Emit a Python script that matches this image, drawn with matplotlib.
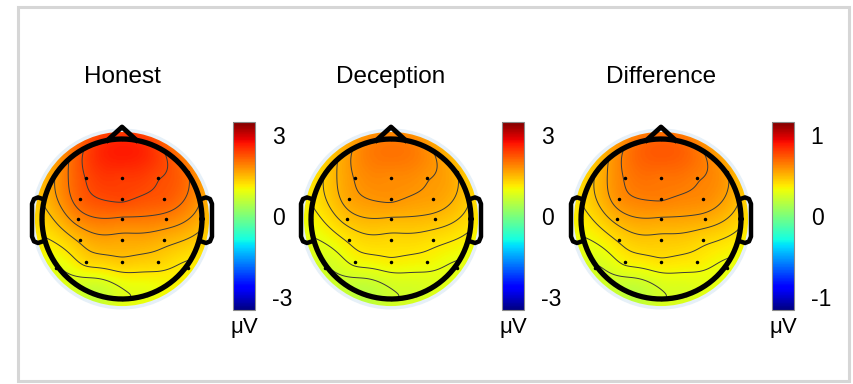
import numpy as np
import matplotlib
matplotlib.use('Agg')
import matplotlib.pyplot as plt
from matplotlib.patches import Circle, Rectangle
from matplotlib.cm import ScalarMappable
from matplotlib.colors import Normalize

plt.rcParams['font.family'] = ['Liberation Sans', 'DejaVu Sans']

# electrode positions (head radius = 1, nose up)
chan_names = ['Fp1', 'Fpz', 'Fp2',
              'F7', 'F3', 'Fz', 'F4', 'F8',
              'FC3', 'FCz', 'FC4',
              'T7', 'C3', 'Cz', 'C4', 'T8',
              'CP3', 'CPz', 'CP4',
              'P7', 'P3', 'Pz', 'P4', 'P8',
              'O1', 'Oz', 'O2']
chan_x = [-0.31, 0.0, 0.31,
          -0.83, -0.45, 0.0, 0.45, 0.83,
          -0.52, 0.0, 0.52,
          -1.0, -0.55, 0.0, 0.55, 1.0,
          -0.52, 0.0, 0.52,
          -0.83, -0.45, 0.0, 0.45, 0.83,
          -0.31, 0.0, 0.31]
chan_y = [0.95, 1.0, 0.95,
          0.59, 0.51, 0.51, 0.51, 0.59,
          0.25, 0.25, 0.25,
          0.0, 0.0, 0.0, 0.0, 0.0,
          -0.26, -0.26, -0.26,
          -0.61, -0.54, -0.54, -0.54, -0.61,
          -0.95, -1.0, -0.95]

# amplitudes (uV)
honest = [2.47, 2.57, 2.5,
          1.73, 2.3, 2.43, 2.3, 2.0,
          2.15, 2.33, 2.2,
          1.3, 1.85, 1.97, 1.9, 1.55,
          1.5, 1.63, 1.55,
          0.88, 1.25, 1.37, 1.3, 1.1,
          0.6, 0.85, 0.9]
deception = [1.87, 1.94, 1.89,
             1.34, 1.75, 1.84, 1.75, 1.53,
             1.64, 1.77, 1.67,
             1.03, 1.42, 1.51, 1.46, 1.21,
             1.17, 1.26, 1.21,
             0.72, 0.99, 1.08, 1.03, 0.88,
             0.52, 0.7, 0.74]
difference = [0.68, 0.71, 0.69,
              0.48, 0.64, 0.67, 0.64, 0.56,
              0.6, 0.64, 0.61,
              0.37, 0.51, 0.55, 0.53, 0.43,
              0.42, 0.46, 0.43,
              0.25, 0.35, 0.39, 0.37, 0.31,
              0.18, 0.25, 0.26]

titles = ['Honest', 'Deception', 'Difference']
limits = [3.5, 3.5, 3.5 / 3]
ticks = [[-3, 0, 3], [-3, 0, 3], [-1, 0, 1]]
tick_labels = [['-3', '0', '3'], ['-3', '0', '3'], ['-1', '0', '1']]

W, H = 854, 384
head_cx = [122, 391, 661]
head_cy = 219
head_r = 80  # pixels


def v4_interp(xe, ye, ve, xi, yi):
    # biharmonic spline, like griddata 'v4'
    p = np.asarray(xe) + 1j * np.asarray(ye)
    d = np.abs(p[:, None] - p[None, :])
    with np.errstate(divide='ignore', invalid='ignore'):
        g = np.where(d > 0, d**2 * (np.log(d) - 1), 0.0)
    w = np.linalg.solve(g, np.asarray(ve))
    q = (xi + 1j * yi).ravel()
    di = np.abs(q[:, None] - p[None, :])
    with np.errstate(divide='ignore', invalid='ignore'):
        gi = np.where(di > 0, di**2 * (np.log(di) - 1), 0.0)
    return (gi @ w).reshape(xi.shape)


fig = plt.figure(figsize=(W / 100, H / 100), dpi=100)

grid = np.linspace(-1.12, 1.12, 220)
X, Y = np.meshgrid(grid, grid)

for i, vals in enumerate([honest, deception, difference]):
    cx = head_cx[i]
    half = 1.35 * head_r
    ax = fig.add_axes([(cx - half) / W, (H - head_cy - half) / H, 2 * half / W, 2 * half / H])
    ax.set_xlim(-1.35, 1.35)
    ax.set_ylim(-1.35, 1.35)
    ax.set_aspect('equal')
    ax.axis('off')

    Z = v4_interp(chan_x, chan_y, vals, X, Y)
    lim = limits[i]
    im = ax.imshow(Z, extent=[-1.12, 1.12, -1.12, 1.12], origin='lower',
                   cmap='jet', vmin=-lim, vmax=lim, interpolation='bilinear')
    im.set_clip_path(Circle((0, 0), 1.1, transform=ax.transData))
    ax.add_patch(Circle((0, 0), 1.11, fill=False, edgecolor='#e6f0f8', lw=2.5))

    levels = np.linspace(min(vals), max(vals), 8)[1:-1]
    cs = ax.contour(X, Y, Z, levels=levels, colors='#3a3a3a', linewidths=0.7)
    cs.set_clip_path(Circle((0, 0), 1.0, transform=ax.transData))

    ax.plot(chan_x, chan_y, 'k.', markersize=3)

    # head, nose, ears
    t = np.linspace(0, 2 * np.pi, 300)
    ax.plot(np.cos(t), np.sin(t), color='black', lw=3.8, solid_capstyle='round')
    ax.plot([-0.18, 0, 0.18], [0.985, 1.15, 0.985], color='black', lw=3.5,
            solid_joinstyle='round')
    ear_x = np.array([0.99, 1.05, 1.10, 1.125, 1.125, 1.10, 1.05, 0.99])
    ear_y = np.array([0.25, 0.27, 0.25, 0.19, -0.22, -0.28, -0.30, -0.28])
    ax.plot(ear_x, ear_y, color='black', lw=3.2, solid_joinstyle='round')
    ax.plot(-ear_x, ear_y, color='black', lw=3.2, solid_joinstyle='round')

    fig.text(cx / W, (H - 77) / H, titles[i], ha='center', va='center', fontsize=17.5)

    # colorbar
    cax = fig.add_axes([(cx + 111) / W, (H - 310) / H, 22 / W, 188 / H])
    sm = ScalarMappable(norm=Normalize(-lim, lim), cmap='jet')
    cb = fig.colorbar(sm, cax=cax, ticks=ticks[i])
    cb.ax.set_yticklabels(tick_labels[i])
    cb.ax.tick_params(length=0, labelsize=16.5, pad=12)
    cb.outline.set_edgecolor('#8a8a8a')
    cb.outline.set_linewidth(0.8)
    cax.text(0.5, -0.035, 'μV', transform=cax.transAxes, ha='center', va='top', fontsize=16)

fig.add_artist(Rectangle((18 / W, 3 / H), 831 / W, 374 / H, transform=fig.transFigure,
                         fill=False, edgecolor='#d6d6d6', lw=2.2))

fig.savefig('out.png', dpi=100)
